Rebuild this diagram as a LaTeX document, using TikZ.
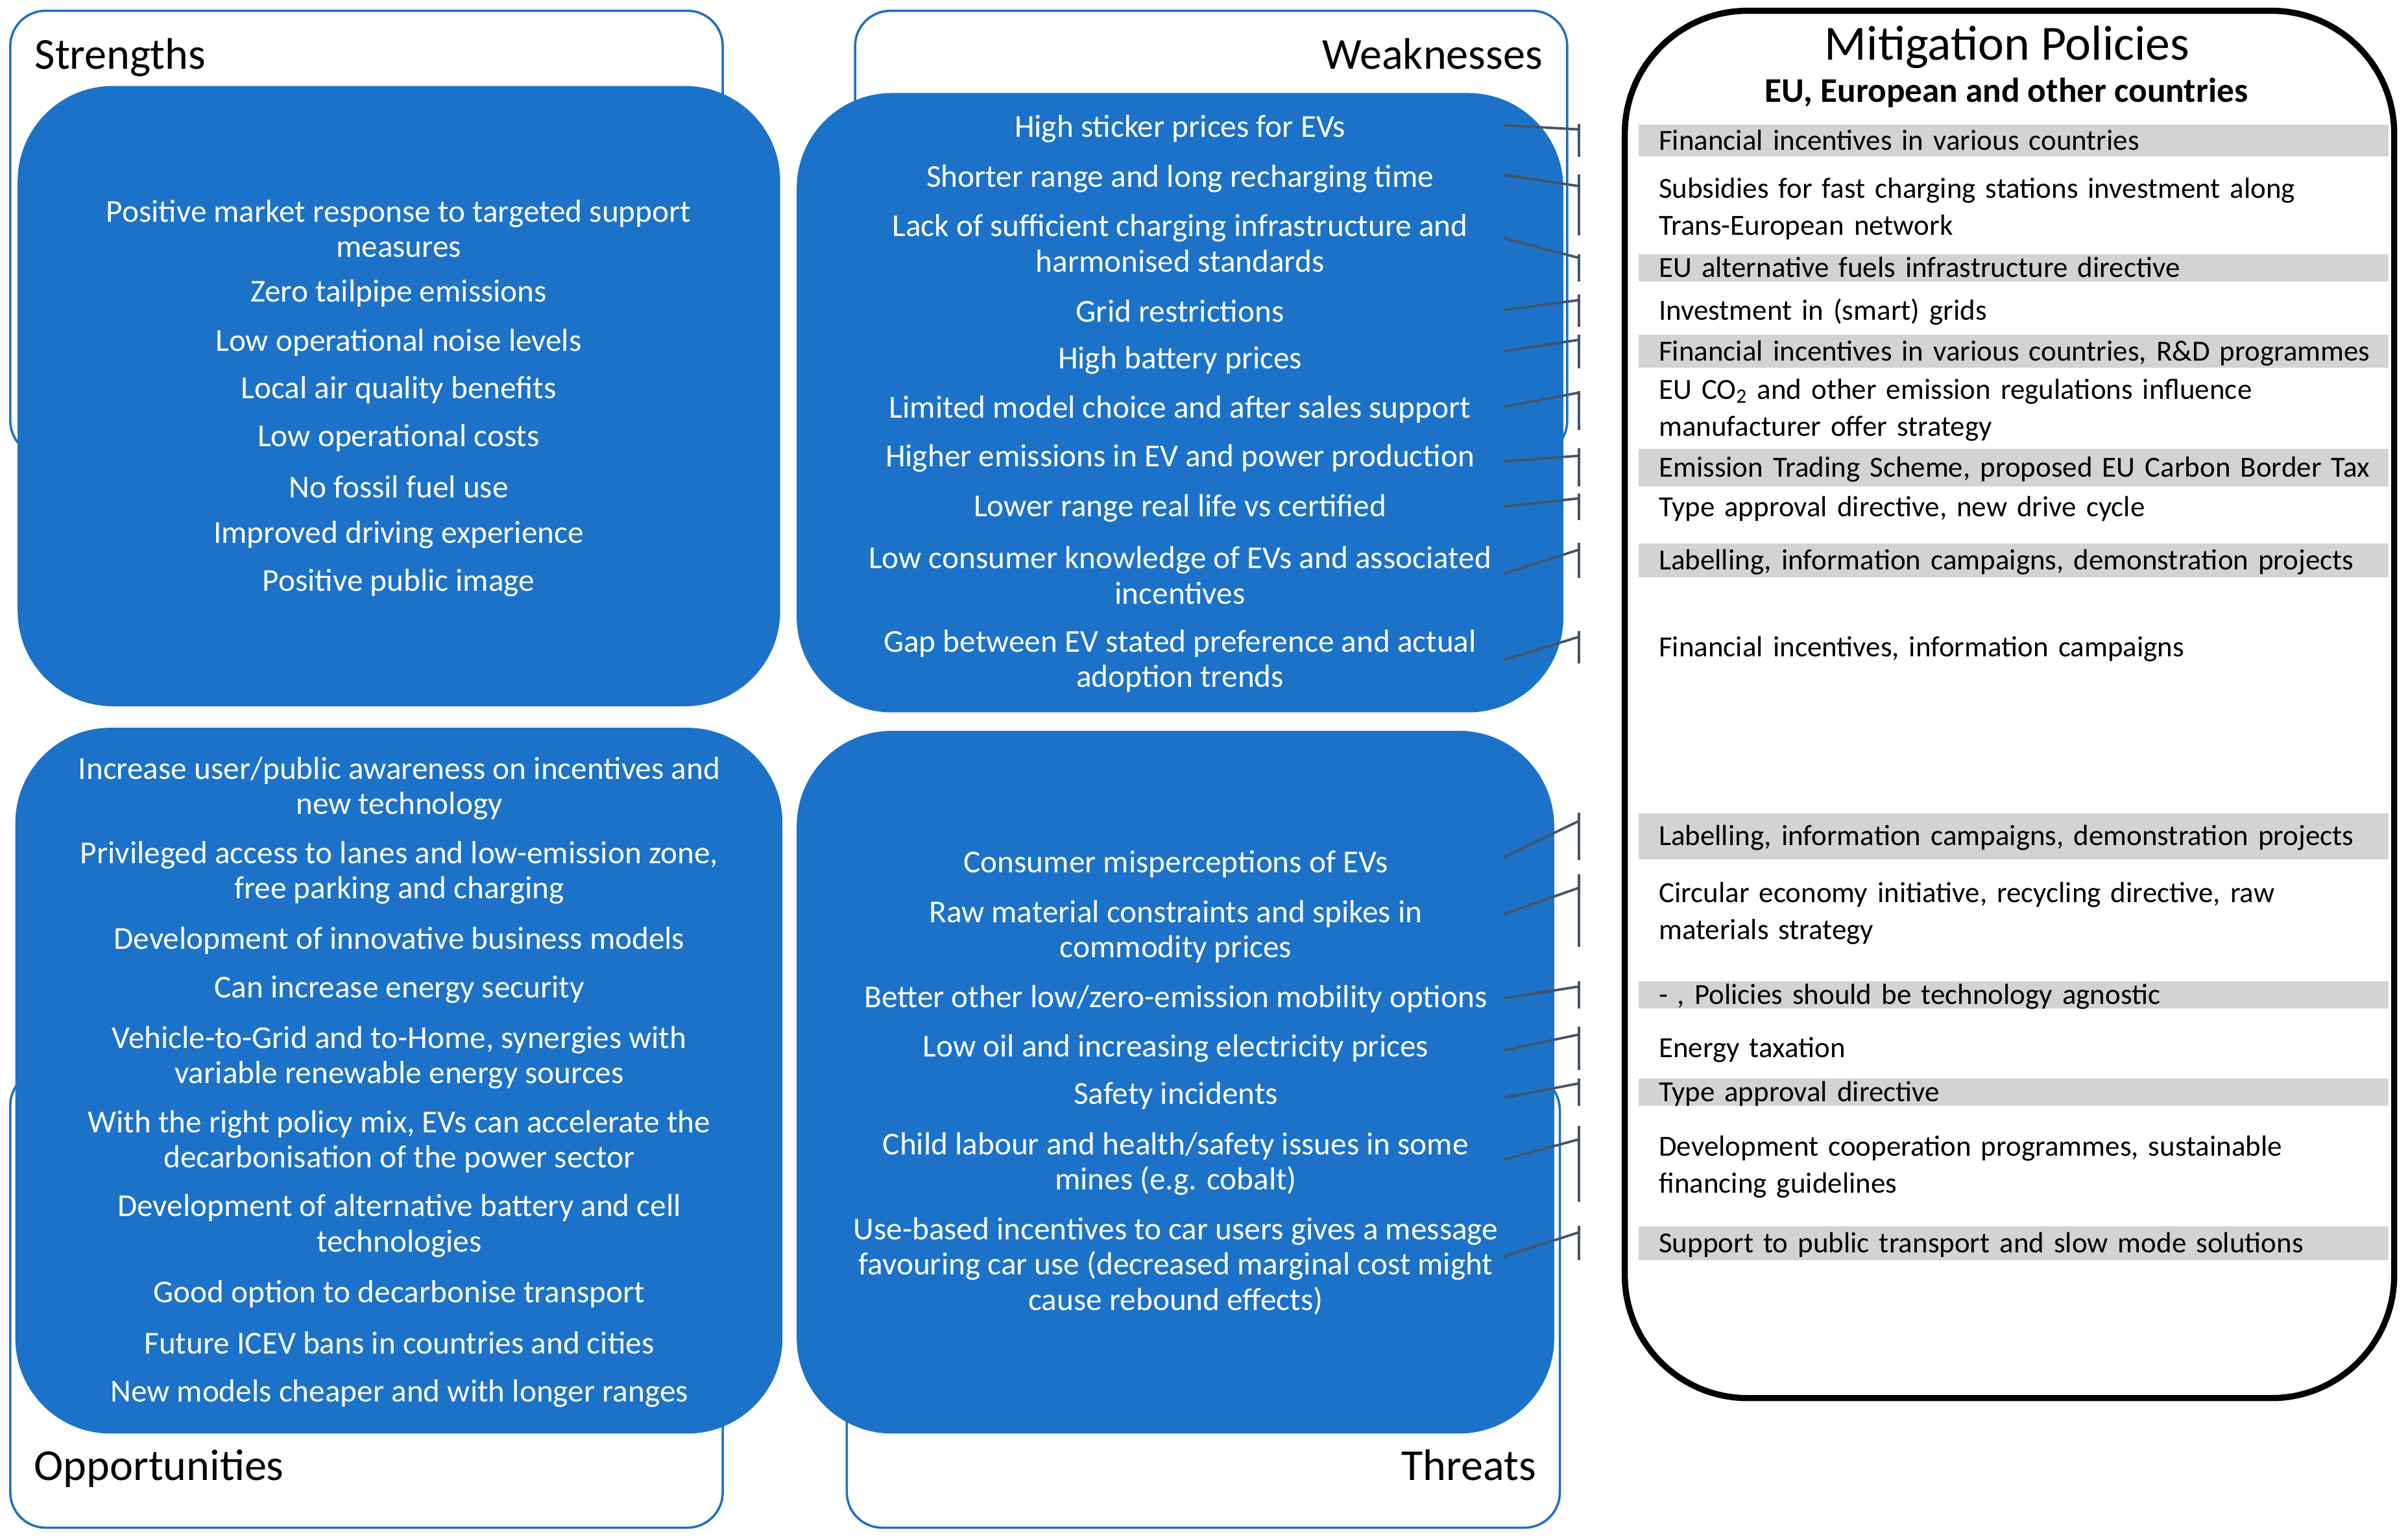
\documentclass[tikz,border=0pt]{standalone}
\usepackage{fontspec}
\setmainfont{Carlito}
\usetikzlibrary{calc}
\definecolor{boxblue}{RGB}{27,114,200}
\definecolor{outblue}{RGB}{30,112,196}
\definecolor{polgray}{RGB}{211,211,211}
\definecolor{conncol}{RGB}{68,84,106}
\hbadness=10000
\hfuzz=100pt
\begin{document}
\begin{tikzpicture}[x=1pt,y=-1pt,
  outl/.style={draw=outblue, line width=1.5pt, rounded corners=23pt, fill=white},
  bluebox/.style={fill=boxblue, rounded corners=62pt},
  item/.style={text=white, font=\fontsize{20.8}{23}\selectfont, align=center, inner sep=0pt},
  quadtitle/.style={font=\fontsize{28.8}{34}\selectfont, inner sep=0pt},
  pbase/.style={anchor=west, font=\fontsize{19}{24}\selectfont, align=left, text width=462pt, inner xsep=13pt, inner ysep=0pt},
  pone/.style={pbase, text height=14.2pt, text depth=2pt},
  pgray/.style={pone, fill=polgray},
  ptwo/.style={pbase},
  conn/.style={draw=conncol, line width=1.6pt}]
\useasboundingbox (0,0) rectangle (1568,1002);
\fill[white] (0,0) rectangle (1568,1002);

% quadrant outlines
\draw[outl] (6.7,7) rectangle (470.6,297);
\draw[outl] (556.8,7) rectangle (1020.5,297);
\draw[outl] (6.7,697) rectangle (470.6,995);
\draw[outl] (551.4,700) rectangle (1015.7,995);

% titles
\node[quadtitle, anchor=base west] (tS) at (22.5,45) {Strengths};
\node[quadtitle, anchor=base east] (tW) at (1004.5,45) {Weaknesses};
\node[quadtitle, anchor=base west] (tO) at (22,964) {Opportunities};
\node[quadtitle, anchor=base east] (tT) at (1000.5,964) {Threats};

% blue boxes
\fill[bluebox] (11.5,56) rectangle (508,460);
\fill[bluebox] (518.8,60.6) rectangle (1018,464);
\fill[bluebox] (10,474) rectangle (509.5,933.7);
\fill[bluebox] (518.8,476) rectangle (1012,933.7);

% Strengths
\node[item] (S1) at (259.6,149) {Positive market response to targeted support\\measures};
\node[item] (S2) at (259.6,191) {Zero tailpipe emissions};
\node[item] (S3) at (259.6,223) {Low operational noise levels};
\node[item] (S4) at (259.6,254) {Local air quality benefits};
\node[item] (S5) at (259.6,285.2) {Low operational costs};
\node[item] (S6) at (259.6,317) {No fossil fuel use};
\node[item] (S7) at (259.6,348.3) {Improved driving experience};
\node[item] (S8) at (259.6,379.5) {Positive public image};

% Weaknesses
\node[item] (W1) at (768.4,83.8) {High sticker prices for EVs};
\node[item] (W2) at (768.4,116.5) {Shorter range and long recharging time};
\node[item] (W3) at (768.4,158.4) {Lack of sufficient charging infrastructure and\\harmonised standards};
\node[item] (W4) at (768.4,202.7) {Grid restrictions};
\node[item] (W5) at (768.4,234.5) {High battery prices};
\node[item] (W6) at (768.4,266.8) {Limited model choice and after sales support};
\node[item] (W7) at (768.4,298.6) {Higher emissions in EV and power production};
\node[item] (W8) at (768.4,331.2) {Lower range real life vs certified};
\node[item] (W9) at (768.4,374.8) {Low consumer knowledge of EVs and associated\\incentives};
\node[item] (W10) at (768.4,430.6) {Gap between EV stated preference and actual\\adoption trends};

% Opportunities
\node[item] (O1) at (260,513.5) {Increase user/public awareness on incentives and\\new technology};
\node[item] (O2) at (260,568.5) {Privileged access to lanes and low-emission zone,\\free parking and charging};
\node[item] (O3) at (260,612.5) {Development of innovative business models};
\node[item] (O4) at (260,644.4) {Can increase energy security};
\node[item] (O5) at (260,688.8) {Vehicle-to-Grid and to-Home, synergies with\\variable renewable energy sources};
\node[item] (O6) at (260,743.6) {With the right policy mix, EVs can accelerate the\\decarbonisation of the power sector};
\node[item] (O7) at (260,798.4) {Development of alternative battery and cell\\technologies};
\node[item] (O8) at (260,842.9) {Good option to decarbonise transport};
\node[item] (O9) at (260,874.8) {Future ICEV bans in countries and cities};
\node[item] (O10) at (260,907.6) {New models cheaper and with longer ranges};

% Threats
\node[item] (T1) at (765.6,562.8) {Consumer misperceptions of EVs};
\node[item] (T2) at (765.6,606.8) {Raw material constraints and spikes in\\commodity prices};
\node[item] (T3) at (765.6,650.5) {Better other low/zero-emission mobility options};
\node[item] (T4) at (765.6,682.7) {Low oil and increasing electricity prices};
\node[item] (T5) at (765.6,713.5) {Safety incidents};
\node[item] (T6) at (765.6,758) {Child labour and health/safety issues in some\\mines (e.g. cobalt)};
\node[item] (T7) at (765.6,824.5) {Use-based incentives to car users gives a message\\favouring car use (decreased marginal cost might\\cause rebound effects)};

% Mitigation box
\draw[black, line width=4pt, rounded corners=80pt] (1058,7) rectangle (1559,910.6);
\node[font=\fontsize{32}{38}\selectfont, inner sep=0pt, anchor=base] (mt) at (1307,39) {Mitigation Policies};
\node[font=\fontsize{22.5}{27}\selectfont\bfseries, inner sep=0pt, anchor=base] (ms) at (1306.5,66.5) {EU, European and other countries};

% policies
\node[pgray, minimum height=21pt] (P1) at (1067,91.5) {\mbox{Financial incentives in various countries}};
\node[ptwo, minimum height=41pt] (P2) at (1067,136) {Subsidies for fast charging stations investment along\\Trans-European network};
\node[pgray, minimum height=17.5pt] (P3) at (1067,174.5) {\mbox{EU alternative fuels infrastructure directive}};
\node[pone, minimum height=20.5pt] (P4) at (1067,202.3) {\mbox{Investment in (smart) grids}};
\node[pgray, minimum height=21.5pt] (P5) at (1067,228.8) {\mbox{Financial incentives in various countries, R\&D programmes}};
\node[ptwo, minimum height=28pt] (P6) at (1067,267) {EU CO\textsubscript{2} and other emission regulations influence\\manufacturer offer strategy};
\node[pgray, minimum height=24.5pt] (P7) at (1067,304.5) {\mbox{Emission Trading Scheme, proposed EU Carbon Border Tax}};
\node[pone, minimum height=17pt] (P8) at (1067,330.2) {\mbox{Type approval directive, new drive cycle}};
\node[pgray, minimum height=22.3pt] (P9) at (1067,365) {\mbox{Labelling, information campaigns, demonstration projects}};
\node[pone, minimum height=20.6pt] (P10) at (1067,421.7) {\mbox{Financial incentives, information campaigns}};
\node[pgray, minimum height=30.2pt] (P11) at (1067,544.7) {\mbox{Labelling, information campaigns, demonstration projects}};
\node[ptwo, minimum height=47pt] (P12) at (1067,595) {Circular economy initiative, recycling directive, raw\\materials strategy};
\node[pgray, minimum height=17.5pt] (P13) at (1067,648) {\mbox{- , Policies should be technology agnostic}};
\node[pone, minimum height=28pt] (P14) at (1067,682.7) {\mbox{Energy taxation}};
\node[pgray, minimum height=17.5pt] (P15) at (1067,711.3) {\mbox{Type approval directive}};
\node[ptwo, minimum height=49pt] (P16) at (1067,760) {Development cooperation programmes, sustainable\\financing guidelines};
\node[pgray, minimum height=22pt] (P17) at (1067,809.6) {\mbox{Support to public transport and slow mode solutions}};

% connectors
\coordinate (cx) at (979,0);
\coordinate (bx) at (1028,0);
\foreach \s/\p/\ds/\de/\topt/\bott in {
  W1/P1/-2.3/3.5/0/0, W2/P2/-2.7/7.4/-1.5/3.5, W3/P3/-3.4/2.4/0/0, W4/P4/-0.7/3.6/0/0,
  W5/P5/-5.7/3.5/0/0, W6/P6/-1.8/1.2/8/7.2, W7/P7/2/4.8/0/0, W8/P8/-1.2/3.1/0/0,
  W9/P9/-1/4.4/0/0, W10/P10/-0.6/3.6/0/0,
  T1/P11/-4.5/5.4/0/0, T2/P12/-11.4/9/-2/2, T3/P13/-0.2/3.5/0/0, T4/P14/1.5/5.3/0/0,
  T5/P15/1.5/3.3/0/0, T6/P16/-2.7/9/-2.2/2.1, T7/P17/-6.1/4.3/0/0}{
  \draw[conn] ($(\p.north -| bx)+(0,\topt)$) -- ($(\p.south -| bx)+(0,-\bott)$);
  \draw[conn] ($(\s.center -| cx)+(0,\ds)$) -- ($(\p.north -| bx)+(0,\topt+\de)$);
}
\end{tikzpicture}
\end{document}
